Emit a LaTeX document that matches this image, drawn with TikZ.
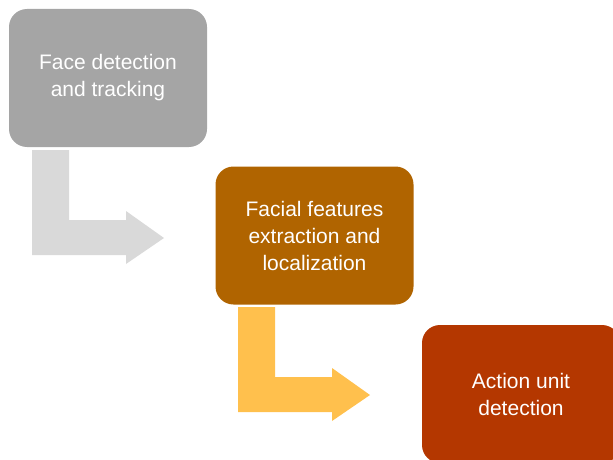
\documentclass[tikz,border=0pt]{standalone}
\usepackage{fontspec}
\setmainfont{Liberation Sans}
\definecolor{stepgray}{HTML}{A5A5A5}
\definecolor{arrowgray}{HTML}{D9D9D9}
\definecolor{stepbrown}{HTML}{B06400}
\definecolor{steprust}{HTML}{B43700}
\definecolor{arrowgold}{HTML}{FFC04D}
\tikzset{
    stagebox/.style={rounded corners=18pt, minimum width=198pt, minimum height=138pt,
        align=center, text=white, font=\fontsize{21}{27}\selectfont, inner sep=0pt},
}
\begin{document}
\begin{tikzpicture}[x=1pt, y=-1pt]
    % --- Canvas ---
    \useasboundingbox (0,0) rectangle (613,460);
    \clip (0,0) rectangle (613,460);

    % --- Stages ---
    \node[stagebox, fill=stepgray] (face) at (108,78) {Face detection\\and tracking};
    \node[stagebox, fill=stepbrown] (features) at (314.5,235.5) {Facial features\\extraction and\\localization};
    \node[stagebox, fill=steprust] (action) at (521,394) {Action unit\\detection};

    % --- Bent arrows (left, top, colour) ---
    \foreach \x/\y/\c in {32/150/arrowgray, 238/307/arrowgold} {
        \fill[\c] (\x,\y) -- ++(37,0) -- ++(0,70) -- ++(57,0) -- ++(0,-9)
            -- ++(38,27) -- ++(-38,26) -- ++(0,-9) -- ++(-94,0) -- cycle;
    }
\end{tikzpicture}
\end{document}
